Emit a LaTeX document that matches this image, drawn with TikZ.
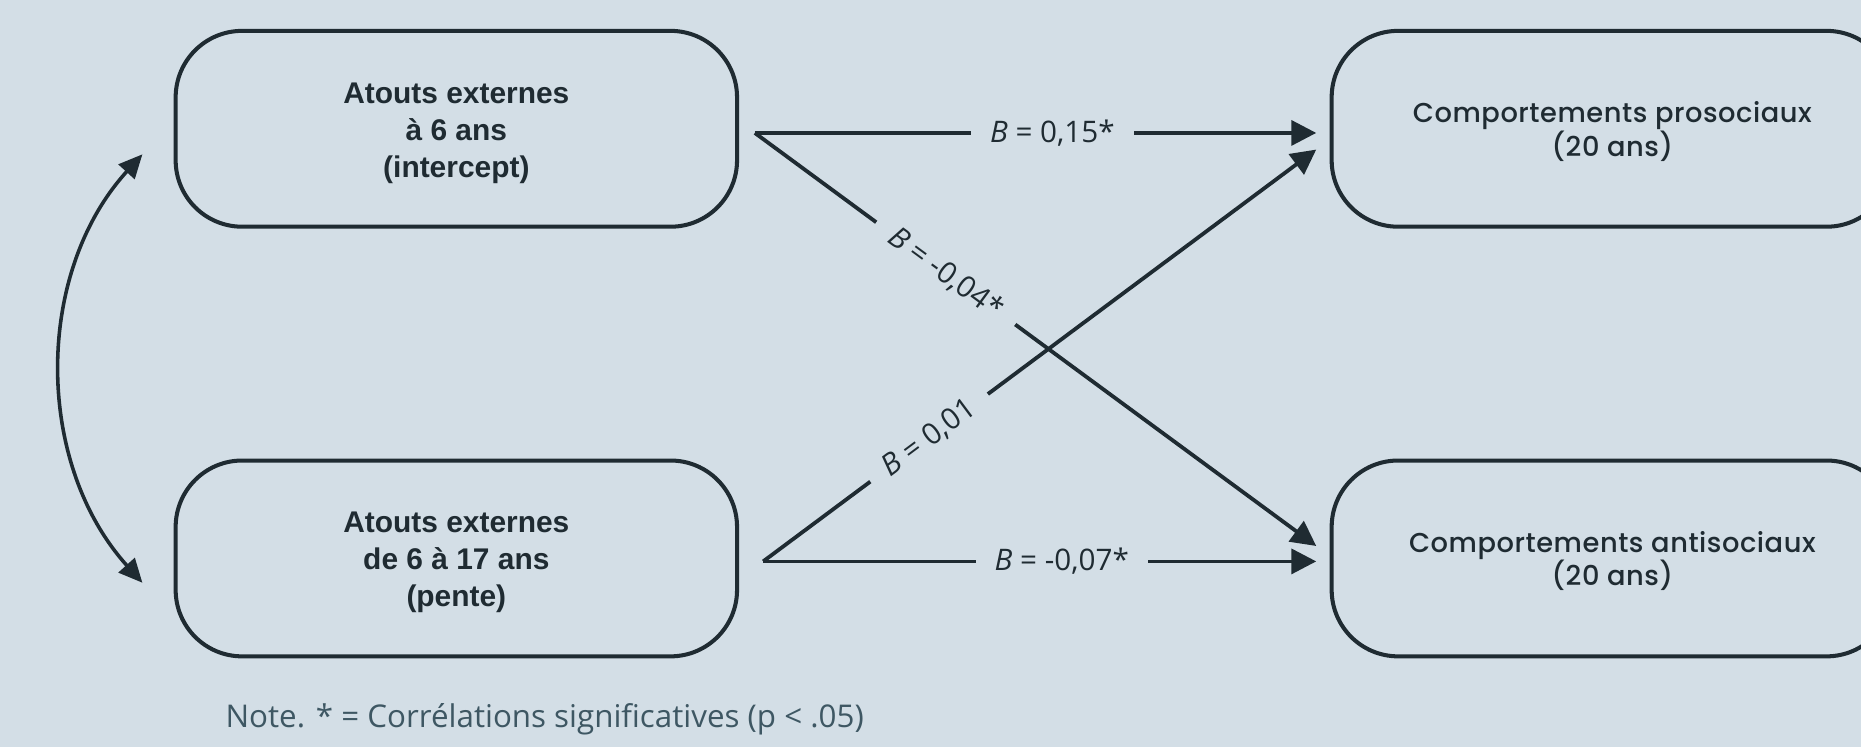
\documentclass[tikz,border=0pt]{standalone}
\usepackage{fontspec}
\setmainfont{Liberation Sans}
\newfontfamily\rfont[LetterSpace=2, BoldFont={Poppins Medium}]{Poppins}
\newfontfamily\lblfont{Open Sans}
\usetikzlibrary{arrows.meta}
\definecolor{bg}{HTML}{D3DEE6}
\definecolor{ink}{HTML}{1F2B32}
\definecolor{notec}{HTML}{3E5763}
\begin{document}
\begin{tikzpicture}[x=0.5pt,y=-0.5pt,
  box/.style={draw=ink, line width=1.7pt, rounded corners=28pt, minimum width=236.5pt,
    minimum height=82.5pt, inner sep=0pt},
  ltext/.style={align=center, text=ink, inner sep=0pt, font=\fontsize{12.6}{15.6}\selectfont\bfseries},
  rtext/.style={align=center, text=ink, inner sep=0pt, font=\rfont\fontsize{11.5}{14}\selectfont\bfseries},
  conn/.style={draw=ink, line width=1.6pt, -{Triangle[length=10.5pt,width=10.5pt]}},
  lbl/.style={fill=bg, text=ink, inner xsep=8pt, inner ysep=2pt, font=\lblfont\fontsize{12.5}{14}\selectfont},
  curv/.style={draw=ink, line width=1.5pt, {Triangle[length=10pt,width=9pt]}-{Triangle[length=10pt,width=9pt]}}
  ]
\fill[bg] (0,0) rectangle (1568,629);
\clip (0,0) rectangle (1568,629);
\node[box] (A) at (384.5,108.5) {};
\node[box] (Bx) at (384.5,470.5) {};
\node[box] (P) at (1358.5,108.5) {};
\node[box] (Q) at (1358.5,470.5) {};
\node[ltext] (At) at ([yshift=-1.8pt]A.center) {Atouts externes\\à 6 ans\\(intercept)};
\node[ltext] (Bt) at ([yshift=-1.8pt]Bx.center) {Atouts externes\\de 6 à 17 ans\\(pente)};
\node[rtext] (Pt) at ([yshift=-1.2pt]P.center) {Comportements prosociaux\\(20 ans)};
\node[rtext] (Qt) at ([yshift=-1.2pt]Q.center) {Comportements antisociaux\\(20 ans)};
\coordinate (p1) at (636,112);
\coordinate (p2) at (643,473);
\coordinate (q1) at (1109,112);
\coordinate (q1b) at (1109,126);
\coordinate (q2) at (1109,473);
\coordinate (q2b) at (1109,460);
\draw[conn] (p1) -- node[lbl, pos=0.53] {\textit{B} = 0,15*} (q1);
\draw[conn] (p1) -- node[lbl, pos=0.34, sloped] {\textit{B} = -0,04*} (q2b);
\draw[conn] (p2) -- node[lbl, pos=0.54] {\textit{B} = -0,07*} (q2);
\draw[conn] (p2) -- node[lbl, pos=0.30, sloped] {\textit{B} = 0,01} (q1b);
\coordinate (c1) at (120,130);
\coordinate (c2) at (120,491);
\draw[curv] (c1) .. controls (29,230) and (29,390) .. (c2);
\node[anchor=west, text=notec, font=\lblfont\fontsize{13.2}{15}\selectfont] (N) at (183,606) {Note. * = Corrélations significatives (p < .05)};
\end{tikzpicture}
\end{document}
